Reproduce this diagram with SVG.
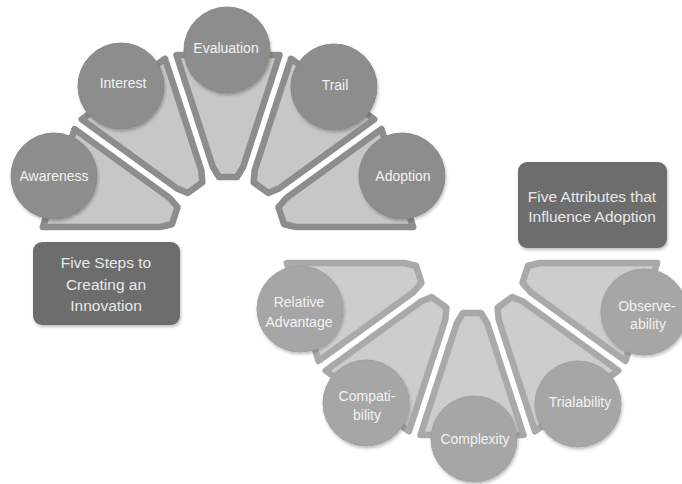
<svg xmlns="http://www.w3.org/2000/svg" width="682" height="484" viewBox="0 0 682 484">
<style>
.segT{fill:#c7c7c7;stroke:#8d8d8d;stroke-width:6.5;stroke-linejoin:round}
.segB{fill:#cdcdcd;stroke:#a9a9a9;stroke-width:6.5;stroke-linejoin:round}
.cirT{fill:#8d8d8d;stroke:#888;stroke-width:1}
.cirB{fill:#a6a6a6;stroke:#a0a0a0;stroke-width:1}
.lbl{font-family:"Liberation Sans",Arial,sans-serif;font-size:14px;fill:#f2f2f2;text-anchor:middle}
.box{fill:#6d6d6d}
.btx{font-family:"Liberation Sans",Arial,sans-serif;font-size:15.5px;fill:#e8e8e8;text-anchor:middle}
</style>
<defs>
<path id="seg" d="M -51.5,-178 L 51.5,-178 L 15.3,-66.5 L 9,-56 L -9,-56 L -15.3,-66.5 Z"/>
<filter id="sh" x="-20%" y="-20%" width="140%" height="140%">
<feDropShadow dx="1" dy="2" stdDeviation="1.5" flood-color="#000" flood-opacity="0.25"/>
</filter>
</defs>
<rect width="682" height="484" fill="#ffffff"/>

<g id="awareness">
<use href="#seg" class="segT" transform="translate(228,233) rotate(-72)"/>
<circle class="cirT" cx="54" cy="176" r="43" filter="url(#sh)"/>
<text class="lbl" x="54" y="181">Awareness</text>
</g>
<g id="interest">
<use href="#seg" class="segT" transform="translate(228,233) rotate(-36)"/>
<circle class="cirT" cx="121" cy="86" r="43" filter="url(#sh)"/>
<text class="lbl" x="123" y="88">Interest</text>
</g>
<g id="evaluation">
<use href="#seg" class="segT" transform="translate(228,233)"/>
<circle class="cirT" cx="227" cy="50" r="43" filter="url(#sh)"/>
<text class="lbl" x="226" y="53">Evaluation</text>
</g>
<g id="trail">
<use href="#seg" class="segT" transform="translate(228,233) rotate(36)"/>
<circle class="cirT" cx="334" cy="87" r="43" filter="url(#sh)"/>
<text class="lbl" x="335" y="90">Trail</text>
</g>
<g id="adoption">
<use href="#seg" class="segT" transform="translate(228,233) rotate(72)"/>
<circle class="cirT" cx="402" cy="176" r="43" filter="url(#sh)"/>
<text class="lbl" x="403" y="181">Adoption</text>
</g>

<g id="relative-advantage">
<use href="#seg" class="segB" transform="translate(472,257) rotate(252)"/>
<circle class="cirB" cx="300" cy="309" r="43" filter="url(#sh)"/>
<text class="lbl" x="299" y="307">Relative</text>
<text class="lbl" x="299" y="327">Advantage</text>
</g>
<g id="compatibility">
<use href="#seg" class="segB" transform="translate(472,257) rotate(216)"/>
<circle class="cirB" cx="366" cy="403" r="43" filter="url(#sh)"/>
<text class="lbl" x="367" y="401">Compati-</text>
<text class="lbl" x="367" y="420">bility</text>
</g>
<g id="complexity">
<use href="#seg" class="segB" transform="translate(472,257) rotate(180)"/>
<circle class="cirB" cx="474" cy="439" r="43" filter="url(#sh)"/>
<text class="lbl" x="475" y="444">Complexity</text>
</g>
<g id="trialability">
<use href="#seg" class="segB" transform="translate(472,257) rotate(144)"/>
<circle class="cirB" cx="578" cy="404" r="43" filter="url(#sh)"/>
<text class="lbl" x="580" y="407">Trialability</text>
</g>
<g id="observability">
<use href="#seg" class="segB" transform="translate(472,257) rotate(108)"/>
<circle class="cirB" cx="644" cy="312" r="43" filter="url(#sh)"/>
<text class="lbl" x="647" y="311">Observe-</text>
<text class="lbl" x="648" y="329">ability</text>
</g>

<g id="five-steps">
<rect class="box" x="33" y="242" width="147" height="83" rx="9" filter="url(#sh)"/>
<text class="btx" x="106" y="268">Five Steps to</text>
<text class="btx" x="106" y="290">Creating an</text>
<text class="btx" x="106" y="311">Innovation</text>
</g>
<g id="five-attributes">
<rect class="box" x="518" y="162" width="149" height="86" rx="9" filter="url(#sh)"/>
<text class="btx" x="592" y="202">Five Attributes that</text>
<text class="btx" x="592" y="222">Influence Adoption</text>
</g>
</svg>
